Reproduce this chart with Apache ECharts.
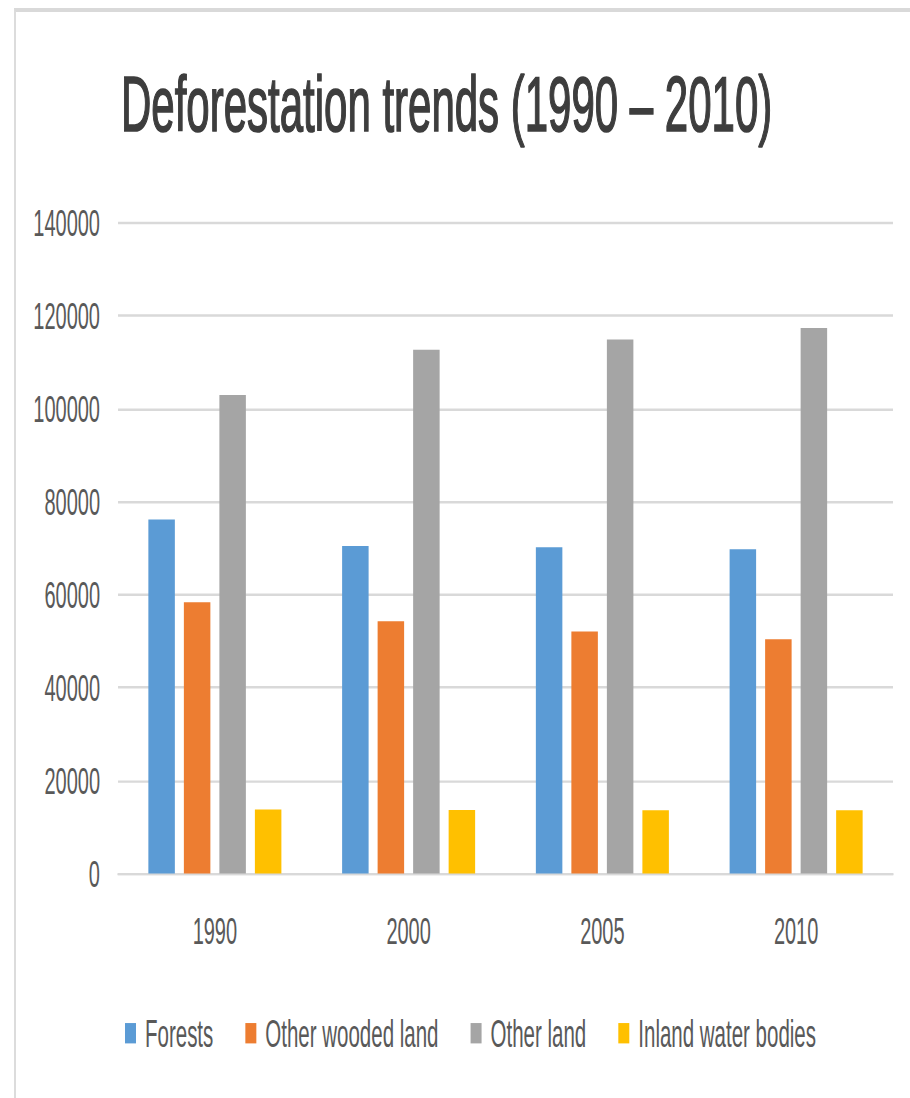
<!DOCTYPE html>
<html>
<head>
<meta charset="utf-8">
<title>Deforestation trends (1990 – 2010)</title>
<script src="https://cdn.jsdelivr.net/npm/echarts@6/dist/echarts.min.js"></script>
<style>
  html, body { margin: 0; padding: 0; background: #fff; overflow: hidden; }
  #frame { position: absolute; left: 14px; top: 8px; width: 900px; height: 1090px;
           border-top: 4px solid #d9d9d9; border-left: 2px solid #dcdcdc; box-sizing: border-box; }
  /* the source picture is an Excel chart stretched tall, so draw flat and stretch vertically */
  #chart { position: absolute; left: 0; top: 0; width: 910px; height: 593.5px;
           transform: scaleY(1.85); transform-origin: 0 0; }
</style>
</head>
<body>
<div id="frame"></div>
<div id="chart"></div>
<script>
var years = ['1990', '2000', '2005', '2010'];
var forests = [76200, 70500, 70200, 69800];
var otherWooded = [58400, 54300, 52100, 50400];
var otherLand = [103000, 112700, 114900, 117400];
var inlandWater = [13800, 13700, 13600, 13600];

var font = "'Liberation Sans', Arial, sans-serif";

function bar(name, data, color) {
    return {
        name: name,
        type: 'bar',
        data: data,
        barWidth: 26.5,
        barGap: '34%',
        itemStyle: { color: color }
    };
}

var myChart = echarts.init(document.getElementById('chart'), null, { renderer: 'svg' });

var option = {
    animation: false,
    title: {
        text: 'Deforestation trends (1990 – 2010)',
        left: 121,
        top: 35,
        padding: 0,
        textStyle: {
            fontFamily: font, fontSize: 42, fontWeight: 'normal', color: '#3d3d3d',
            textBorderColor: '#3d3d3d', textBorderWidth: 0.9
        }
    },
    legend: {
        left: 125,
        top: 548,
        padding: 0,
        itemWidth: 11,
        itemHeight: 11,
        itemGap: 32,
        icon: 'rect',
        textStyle: { fontFamily: font, fontSize: 20.5, color: '#595959', padding: [0, 0, 0, 4] },
        data: ['Forests', 'Other wooded land', 'Other land', 'Inland water bodies']
    },
    grid: { left: 118, right: 17, top: 120.5, bottom: 121.8, containLabel: false },
    xAxis: {
        type: 'category',
        data: years,
        axisLine: { show: true, lineStyle: { color: '#d9d9d9', width: 1.3 } },
        axisTick: { show: false },
        axisLabel: { margin: 21, fontFamily: font, fontSize: 20, color: '#595959' }
    },
    yAxis: {
        type: 'value',
        min: 0,
        max: 140000,
        interval: 20000,
        axisLine: { show: false },
        axisTick: { show: false },
        axisLabel: {
            margin: 18, fontFamily: font, fontSize: 20, color: '#595959',
            formatter: function (v) { return String(v); }
        },
        splitLine: { lineStyle: { color: '#d9d9d9', width: 1.3 } }
    },
    series: [
        bar('Forests', forests, '#5B9BD5'),
        bar('Other wooded land', otherWooded, '#ED7D31'),
        bar('Other land', otherLand, '#A5A5A5'),
        bar('Inland water bodies', inlandWater, '#FFC000')
    ]
};

myChart.setOption(option);
</script>
</body>
</html>
